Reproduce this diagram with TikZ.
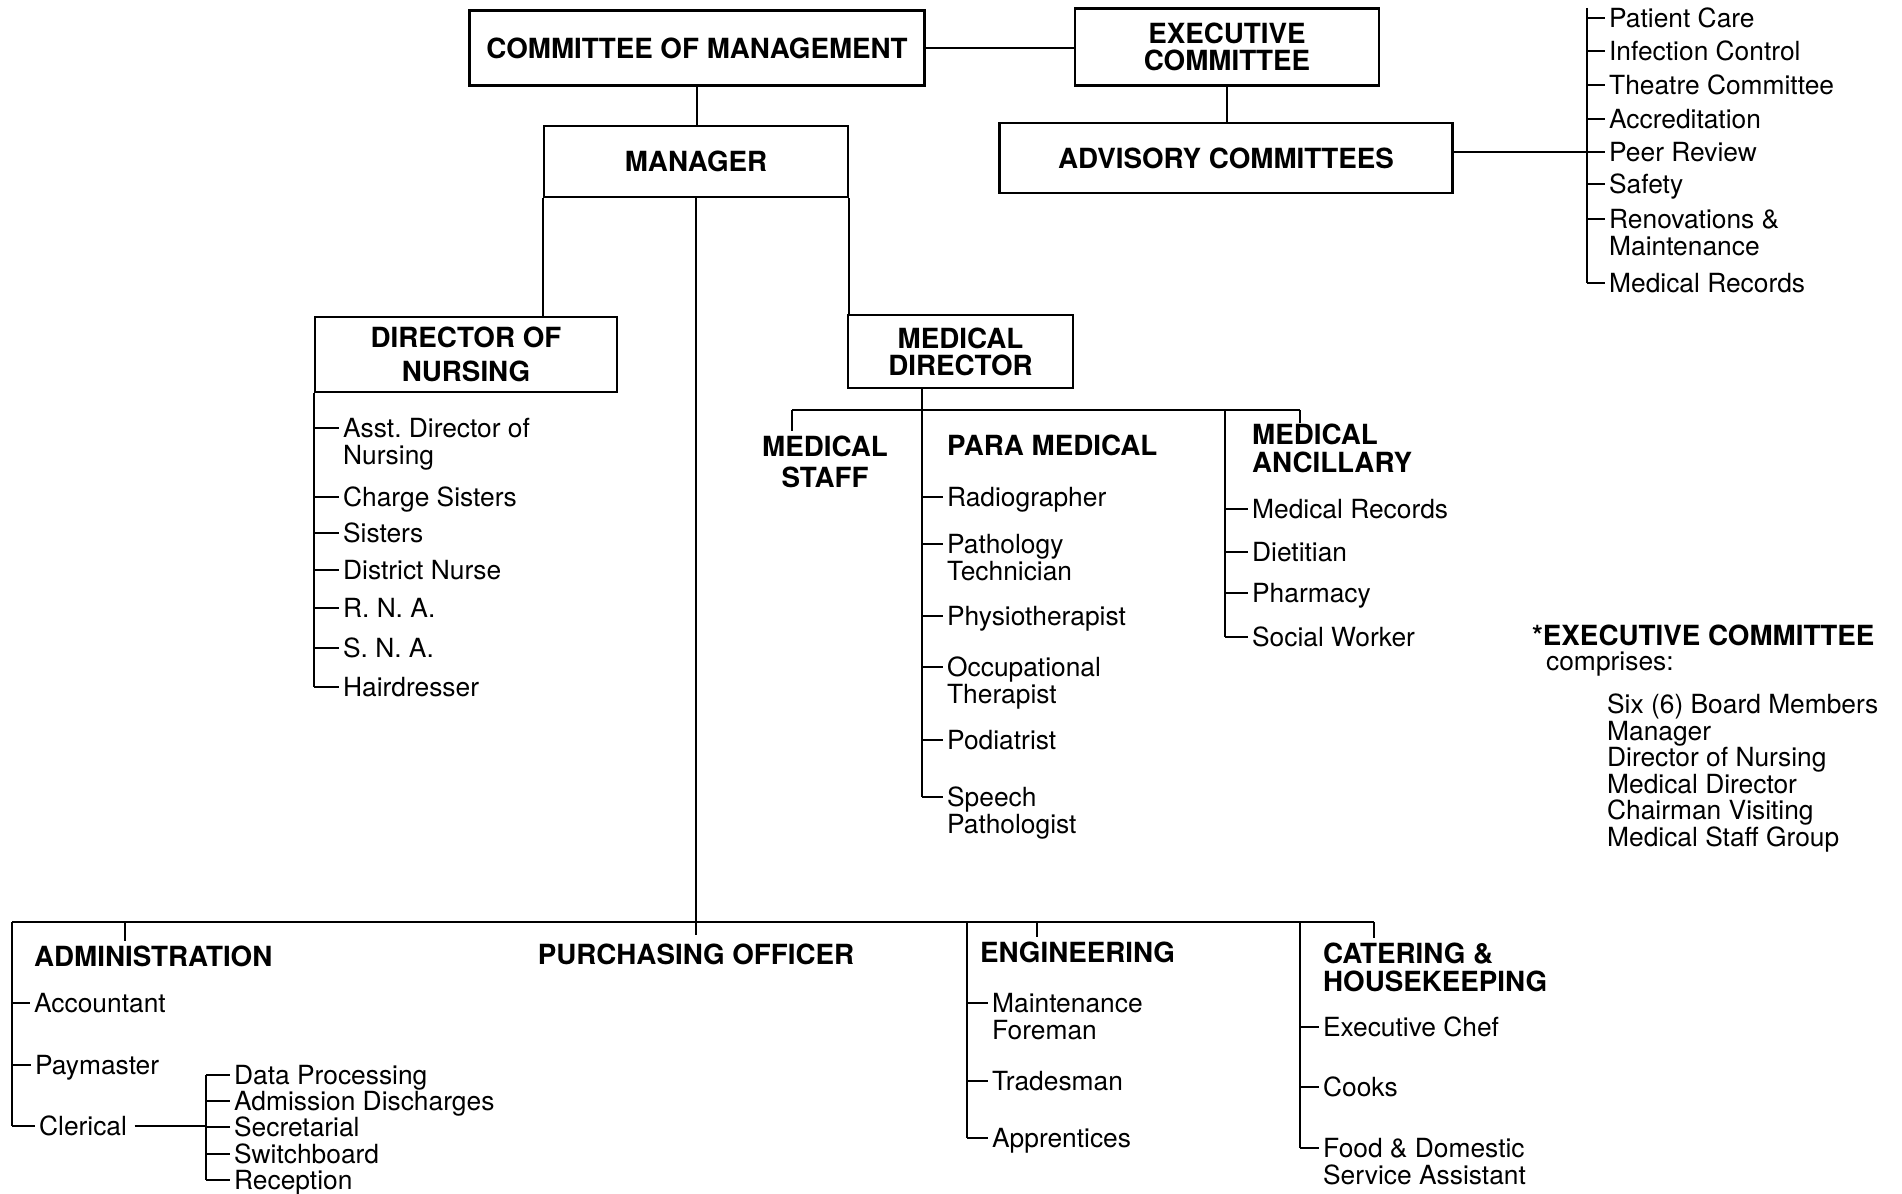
\documentclass[tikz,border=0pt]{standalone}
\usepackage{fontspec}
\setmainfont{TeX Gyre Heros}
\usepackage{tikz}

\newcommand{\itmfont}{\fontsize{15}{15.4}\selectfont}
\newcommand{\hdfont}{\fontsize{15.8}{15.4}\selectfont\bfseries}

\begin{document}
\begin{tikzpicture}[
  x=0.02cm, y=-0.02cm,
  line width=1.3pt,
  box/.style={rectangle, draw, font=\hdfont, align=center, inner sep=0pt},
  hd/.style={font=\hdfont, align=left, inner sep=0pt},
  head/.style={hd, anchor=west, inner ysep=3pt, text height=11.3pt, text depth=0pt},
  entry/.style={font=\itmfont, align=left, anchor=west, inner xsep=1.7pt, inner ysep=0pt, text height=10.8pt, text depth=0pt},
  up/.style={yshift=15.4pt}
]
\useasboundingbox (0,0) rectangle (1902,1193);

% top of the chart
\node[box, minimum width=9.1cm, minimum height=1.5cm] (com) at (697,48) {COMMITTEE OF MANAGEMENT};
\node[box, minimum width=6.08cm, minimum height=1.54cm] (exec) at (1227,47) {EXECUTIVE\\COMMITTEE};
\node[box, minimum width=9.06cm, minimum height=1.4cm] (adv) at (1226,158) {ADVISORY COMMITTEES};
\node[box, minimum width=6.08cm, minimum height=1.42cm] (mgr) at (696,161.5) {MANAGER};
\node[box, minimum width=6.04cm, minimum height=1.5cm] (don) at (466,354.5) {DIRECTOR OF\\[3.9pt]NURSING};
\node[box, minimum width=4.5cm, minimum height=1.46cm] (md) at (960.5,351.5) {MEDICAL\\DIRECTOR};

\draw (com.east) -- (com.east -| exec.west);
\draw (exec.south) -- (exec.south |- adv.north);
\draw (com.south) -- (com.south |- mgr.north);
\draw (mgr.south west) -- (mgr.south west |- don.north);
\draw (mgr.south east) -- (mgr.south east |- md.north);

% advisory committees
\node[entry] (pc) at (1605,18) {Patient Care};
\node[entry] (ic) at (1605,51) {Infection Control};
\node[entry] (tc) at (1605,85) {Theatre Committee};
\node[entry] (acc) at (1605,119) {Accreditation};
\node[entry] (pr) at (1605,152) {Peer Review};
\node[entry] (saf) at (1605,184) {Safety};
\node[entry] (ren) at (1605,246) {Renovations \&\\Maintenance};
\node[entry] (rec1) at (1605,283) {Medical Records};

\coordinate (advB) at (1587,8);
\draw (advB) -- (advB |- rec1.west);
\draw (adv.east |- pr.west) -- (pr.west);
\draw (advB |- pc.west) -- (pc.west);
\draw (advB |- ic.west) -- (ic.west);
\draw (advB |- tc.west) -- (tc.west);
\draw (advB |- acc.west) -- (acc.west);
\draw (advB |- saf.west) -- (saf.west);
\draw ([up]advB |- ren.west) -- ([up]ren.west);
\draw (advB |- rec1.west) -- (rec1.west);

% nursing
\node[entry] (adn) at (339,455) {Asst.\ Director of\\Nursing};
\node[entry] (cs) at (339,497) {Charge Sisters};
\node[entry] (sis) at (339,533) {Sisters};
\node[entry] (dn) at (339,570) {District Nurse};
\node[entry] (rna) at (339,608) {R. N. A.};
\node[entry] (sna) at (339,648) {S. N. A.};
\node[entry] (hd) at (339,687) {Hairdresser};

\draw (don.south west) -- (don.south west |- hd.west);
\draw ([up]don.south west |- adn.west) -- ([up]adn.west);
\draw (don.south west |- cs.west) -- (cs.west);
\draw (don.south west |- sis.west) -- (sis.west);
\draw (don.south west |- dn.west) -- (dn.west);
\draw (don.south west |- rna.west) -- (rna.west);
\draw (don.south west |- sna.west) -- (sna.west);
\draw (don.south west |- hd.west) -- (hd.west);

% medical director
\coordinate (mdJ) at (922,410);
\coordinate (msT) at (792,410);
\coordinate (maT) at (1300,410);
\coordinate (anB) at (1225,410);

\node[hd, align=center, anchor=base, inner ysep=2pt] (ms) at (825,487) {MEDICAL\\[2.2pt]STAFF};
\node[head] (pm) at (946,446) {PARA MEDICAL};
\node[hd, anchor=base west] (ma) at (1251,472) {MEDICAL\\ANCILLARY};

\draw (md.south -| mdJ) -- (mdJ);
\draw (msT) -- (maT);
\draw (msT) -- (msT |- ms.north);
\draw (maT) -- (maT |- ma.north);

\node[entry] (rad) at (943,497) {Radiographer};
\node[entry] (pat) at (943,571) {Pathology\\Technician};
\node[entry] (phy) at (943,616) {Physiotherapist};
\node[entry] (occ) at (943,694) {Occupational\\Therapist};
\node[entry] (pod) at (943,740) {Podiatrist};
\node[entry] (spe) at (943,824) {Speech\\Pathologist};

\draw (mdJ) -- ([up]mdJ |- spe.west);
\draw (mdJ |- rad.west) -- (rad.west);
\draw ([up]mdJ |- pat.west) -- ([up]pat.west);
\draw (mdJ |- phy.west) -- (phy.west);
\draw ([up]mdJ |- occ.west) -- ([up]occ.west);
\draw (mdJ |- pod.west) -- (pod.west);
\draw ([up]mdJ |- spe.west) -- ([up]spe.west);

\node[entry] (rec2) at (1248,509) {Medical Records};
\node[entry] (diet) at (1248,552) {Dietitian};
\node[entry] (pha) at (1248,593) {Pharmacy};
\node[entry] (sw) at (1248,637) {Social Worker};

\draw (anB) -- (anB |- sw.west);
\draw (anB |- rec2.west) -- (rec2.west);
\draw (anB |- diet.west) -- (diet.west);
\draw (anB |- pha.west) -- (pha.west);
\draw (anB |- sw.west) -- (sw.west);

% footnote
\node[head] (fnh) at (1531,636) {*EXECUTIVE COMMITTEE};
\node[entry] (fnc) at (1542,661) {comprises:};
\node[entry, font=\fontsize{15}{15.1}\selectfont] (fnl) at (1603,837) {Six (6) Board Members\\Manager\\Director of Nursing\\Medical Director\\Chairman Visiting\\Medical Staff Group};

% lower departments
\coordinate (busL) at (12,922);
\coordinate (busR) at (1374,922);
\coordinate (admT) at (125,922);
\coordinate (engB) at (967,922);
\coordinate (engT) at (1037,922);
\coordinate (catB) at (1300,922);

\node[head, anchor=center, inner ysep=5pt] (pur) at (696,955) {PURCHASING OFFICER};
\node[head] (adm) at (33,957) {ADMINISTRATION};
\node[head] (eng) at (979,953) {ENGINEERING};
\node[hd, anchor=base west, inner ysep=2.5pt] (cat) at (1322,991) {CATERING \&\\HOUSEKEEPING};

\draw (busL) -- (busR);
\draw (mgr.south) -- (mgr.south |- pur.north);
\draw (admT) -- (admT |- adm.north);
\draw (engT) -- (engT |- eng.north);
\draw (busR) -- (busR |- cat.north);

\node[entry] (acct) at (30,1003) {Accountant};
\node[entry] (pay) at (31,1065) {Paymaster};
\node[entry] (cler) at (35,1126) {Clerical};

\draw (busL) -- (busL |- cler.west);
\draw (busL |- acct.west) -- (acct.west);
\draw (busL |- pay.west) -- (pay.west);
\draw (busL |- cler.west) -- (cler.west);

\node[entry] (dp) at (230,1075) {Data Processing};
\node[entry] (ad) at (230,1101) {Admission Discharges};
\node[entry] (sec) at (230,1127) {Secretarial};
\node[entry] (swb) at (230,1154) {Switchboard};
\node[entry] (rcp) at (230,1180) {Reception};

\coordinate (clB) at (206,1075);
\draw ([xshift=2pt]cler.east) -- (clB |- cler.east);
\draw (clB) -- (clB |- rcp.west);
\draw (clB) -- (dp.west);
\draw (clB |- ad.west) -- (ad.west);
\draw (clB |- sec.west) -- (sec.west);
\draw (clB |- swb.west) -- (swb.west);
\draw (clB |- rcp.west) -- (rcp.west);

\node[entry] (mf) at (988,1030) {Maintenance\\Foreman};
\node[entry] (tr) at (988,1081) {Tradesman};
\node[entry] (app) at (988,1138) {Apprentices};

\draw (engB) -- (engB |- app.west);
\draw ([up]engB |- mf.west) -- ([up]mf.west);
\draw (engB |- tr.west) -- (tr.west);
\draw (engB |- app.west) -- (app.west);

\node[entry] (ec) at (1319,1027) {Executive Chef};
\node[entry] (ck) at (1319,1087) {Cooks};
\node[entry] (fd) at (1319,1175) {Food \& Domestic\\Service Assistant};

\draw (catB) -- ([up]catB |- fd.west);
\draw (catB |- ec.west) -- (ec.west);
\draw (catB |- ck.west) -- (ck.west);
\draw ([up]catB |- fd.west) -- ([up]fd.west);
\end{tikzpicture}
\end{document}
